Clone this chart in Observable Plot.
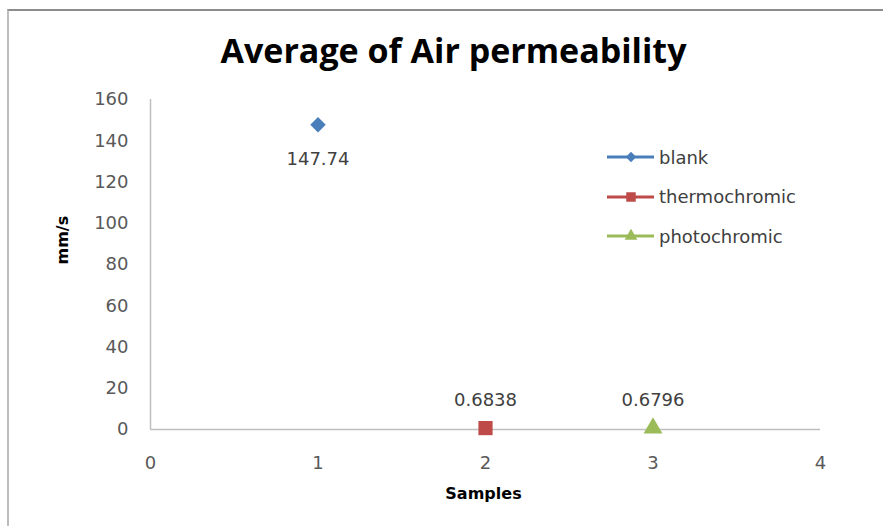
<!DOCTYPE html>
<html>
<head>
<meta charset="utf-8">
<script src="https://cdn.jsdelivr.net/npm/d3@7"></script>
<script src="https://cdn.jsdelivr.net/npm/@observablehq/plot@0.6"></script>
<style>
  html, body { margin: 0; padding: 0; background: #fff; }
  #wrap { position: relative; width: 883px; height: 526px; overflow: hidden; }
  #frame { position: absolute; left: 7px; top: 9px; width: 900px; height: 600px;
           border-left: 2px solid #bdbdbd; border-top: 2px solid #8c8c8c; box-sizing: border-box; }
  #legend { position: absolute; left: 606px; top: 144px; font-family: "DejaVu Sans", sans-serif;
            font-size: 18px; color: #404040; }
  .item { display: flex; align-items: center; height: 26px; margin-bottom: 13.5px; }
  .item svg { display: block; margin-right: 3px; }
</style>
</head>
<body>
<div id="wrap"><div id="frame"></div><div id="chart"></div><div id="legend"></div></div>
<script>
const seriesNames = ["blank", "thermochromic", "photochromic"];
const xValues = [1, 2, 3];
const yValues = [147.74, 0.6838, 0.6796];
const valueLabels = ["147.74", "0.6838", "0.6796"];
const seriesColors = ["#4a7ebb", "#be4b48", "#9bbb59"];
const seriesSymbols = ["diamond2", "square", "triangle"];
const xTicks = [0, 1, 2, 3, 4];
const yTicks = [0, 20, 40, 60, 80, 100, 120, 140, 160];
const titleText = "Average of Air permeability";
const xTitle = "Samples";
const yTitle = "mm/s";

const data = seriesNames.map((name, i) => ({
  name, x: xValues[i], y: yValues[i], label: valueLabels[i],
  color: seriesColors[i], symbol: seriesSymbols[i]
}));
const labelDy = [34, -28, -28];
const symR = {diamond2: 7, square: 8, triangle: 7};

const chart = Plot.plot({
  width: 883, height: 526,
  marginLeft: 150, marginRight: 63, marginTop: 99, marginBottom: 97,
  style: {fontFamily: "'DejaVu Sans', sans-serif", fontSize: "18px", color: "#595959", background: "transparent", overflow: "visible"},
  x: {domain: [0, 4]},
  y: {domain: [0, 160]},
  marks: [
    Plot.ruleX([0], {stroke: "#bfbfbf", strokeWidth: 1.5}),
    Plot.ruleY([0], {stroke: "#bfbfbf", strokeWidth: 1.5}),
    Plot.axisX({ticks: xTicks, tickSize: 0, tickPadding: 27, label: null, tickFormat: d => String(d), fill: "#595959"}),
    Plot.axisY({ticks: yTicks, tickSize: 0, tickPadding: 22, label: null, tickFormat: d => String(d), fill: "#595959"}),
    ...data.map((d, i) => Plot.dot([d], {x: "x", y: "y", symbol: d.symbol, fill: d.color, r: symR[d.symbol], stroke: "none"})),
    ...data.map((d, i) => Plot.text([d], {x: "x", y: "y", text: "label", dy: labelDy[i], fill: "#404040", fontSize: 18})),
    Plot.text([titleText], {frameAnchor: "top", dx: -32, dy: -47, fontSize: 34, fontWeight: "bold", fill: "#000", lineAnchor: "middle", fontFamily: "'Open Sans', sans-serif"}),
    Plot.text([xTitle], {frameAnchor: "bottom", dx: -2, dy: 64, fontSize: 16, fontWeight: "bold", fill: "#000", lineAnchor: "middle"}),
    Plot.text([yTitle], {frameAnchor: "left", dx: -88, rotate: -90, fontSize: 16, fontWeight: "bold", fill: "#000", lineAnchor: "middle"})
  ]
});
document.getElementById("chart").appendChild(chart);

const legend = document.getElementById("legend");
data.forEach(d => {
  const item = document.createElement("div");
  item.className = "item";
  const svg = d3.create("svg").attr("width", 50).attr("height", 20);
  svg.append("line").attr("x1", 1).attr("x2", 48).attr("y1", 10).attr("y2", 10)
    .attr("stroke", d.color).attr("stroke-width", 3);
  const symMap = {diamond2: d3.symbolDiamond2, square: d3.symbolSquare, triangle: d3.symbolTriangle};
  svg.append("path").attr("transform", "translate(25,10)")
    .attr("d", d3.symbol(symMap[d.symbol], d.symbol === "square" ? 90 : 70)())
    .attr("fill", d.color);
  item.appendChild(svg.node());
  const span = document.createElement("span");
  span.textContent = d.name;
  item.appendChild(span);
  legend.appendChild(item);
});
</script>
</body>
</html>
